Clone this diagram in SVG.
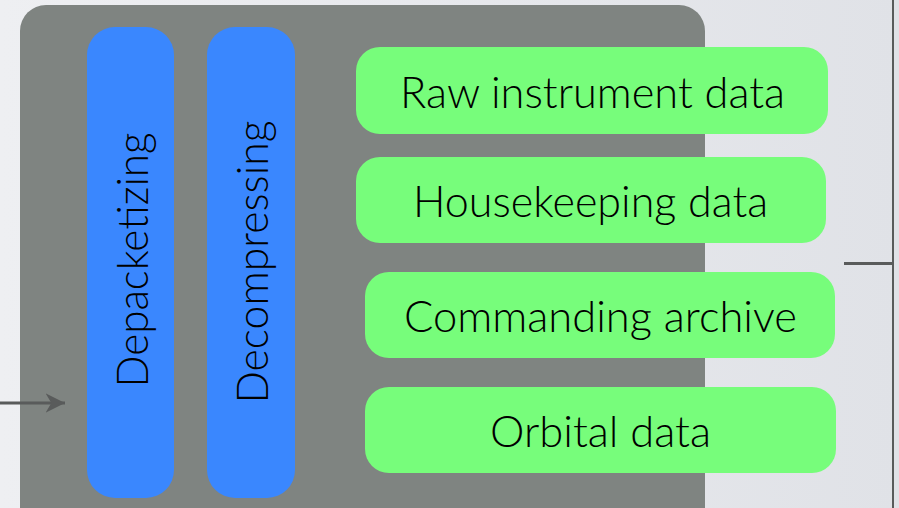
<svg xmlns="http://www.w3.org/2000/svg" width="899" height="508" viewBox="0 0 899 508">
  <defs>
    <linearGradient id="bg" x1="0" y1="0" x2="1" y2="0">
      <stop offset="0" stop-color="#eeeff2"/>
      <stop offset="1" stop-color="#e0e2e7"/>
    </linearGradient>
    <marker id="arrow" viewBox="0 0 10 10" refX="10" refY="5" markerWidth="6.5" markerHeight="6.5" markerUnits="strokeWidth" orient="auto">
      <path d="M0,0 L10,5 L0,10 L3,5 Z" fill="#595b5b"/>
    </marker>
  </defs>
  <style>
    .stage { fill: #3a87fe; }
    .store { fill: #77fd7b; }
    .label { font-family: "Lato", "Open Sans", "DejaVu Sans", sans-serif; font-weight: 300; font-size: 44px; fill: #000; }
    .conn { stroke: #595b5b; fill: none; }
  </style>

  <rect x="0" y="0" width="899" height="508" fill="url(#bg)"/>

  <!-- processing container -->
  <g id="pipeline">
    <rect x="20" y="5" width="685" height="530" rx="26" fill="#7f8481"/>
  </g>

  <g id="depacketizing">
    <rect class="stage" x="87" y="27" width="87" height="471" rx="28"/>
    <text class="label" transform="translate(148,260) rotate(-90)" text-anchor="middle" textLength="255" lengthAdjust="spacingAndGlyphs">Depacketizing</text>
  </g>

  <g id="decompressing">
    <rect class="stage" x="207" y="27" width="88" height="471" rx="28"/>
    <text class="label" transform="translate(268,262) rotate(-90)" text-anchor="middle" textLength="283" lengthAdjust="spacingAndGlyphs">Decompressing</text>
  </g>

  <g id="raw-instrument-data">
    <rect class="store" x="356" y="47" width="472" height="87" rx="24"/>
    <text class="label" x="592.5" y="108" text-anchor="middle" textLength="385" lengthAdjust="spacingAndGlyphs">Raw instrument data</text>
  </g>

  <g id="housekeeping-data">
    <rect class="store" x="356" y="157" width="470" height="86" rx="24"/>
    <text class="label" x="590.5" y="217" text-anchor="middle" textLength="355" lengthAdjust="spacingAndGlyphs">Housekeeping data</text>
  </g>

  <g id="commanding-archive">
    <rect class="store" x="365" y="272" width="470" height="86" rx="24"/>
    <text class="label" x="600.5" y="332" text-anchor="middle" textLength="393" lengthAdjust="spacingAndGlyphs">Commanding archive</text>
  </g>

  <g id="orbital-data">
    <rect class="store" x="365" y="387" width="471" height="86" rx="24"/>
    <text class="label" x="600.5" y="447" text-anchor="middle" textLength="221" lengthAdjust="spacingAndGlyphs">Orbital data</text>
  </g>

  <g id="connectors">
    <line class="conn" x1="0" y1="403" x2="65" y2="403" stroke-width="3" marker-end="url(#arrow)"/>
    <line class="conn" x1="844" y1="263.5" x2="893" y2="263.5" stroke-width="3"/>
    <line class="conn" x1="893" y1="0" x2="893" y2="508" stroke-width="2" stroke="#45474a"/>
  </g>
</svg>
